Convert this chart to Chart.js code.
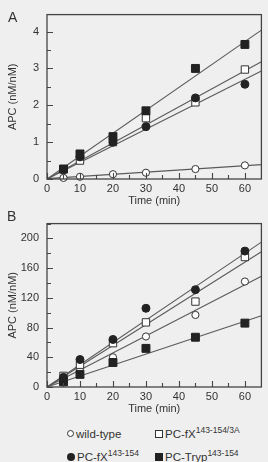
<!DOCTYPE html>
<html><head><meta charset="utf-8">
<script src="https://cdn.jsdelivr.net/npm/chart.js@4/dist/chart.umd.min.js"></script>
<style>
html,body{margin:0;padding:0;background:#efefef;}
body{width:268px;height:462px;position:relative;overflow:hidden;font-family:"Liberation Sans",Arial,sans-serif;color:#333;}
.cv{position:absolute;left:0;width:268px;}
.lbl{position:absolute;font-size:14px;color:#333;}
.leg{position:absolute;font-size:11.5px;color:#333;white-space:nowrap;line-height:14px;}
.leg sup{font-size:8.5px;position:relative;top:-1px;vertical-align:top;line-height:8px;}
.mk{display:inline-block;vertical-align:middle;margin-right:2px;position:relative;top:-1px;box-sizing:border-box;}
</style></head>
<body>
<div class="cv" style="top:0;height:209px"><canvas id="cA" width="268" height="209"></canvas></div>
<div class="cv" style="top:209px;height:208px"><canvas id="cB" width="268" height="208"></canvas></div>
<div class="lbl" style="left:8px;top:9px">A</div>
<div class="lbl" style="left:7px;top:208px">B</div>
<div class="leg" style="left:67px;top:427px"><span class="mk" style="width:7px;height:7px;border:1px solid #333;border-radius:50%;background:#fff"></span>wild-type</div>
<div class="leg" style="left:155px;top:427px"><span class="mk" style="width:8px;height:8px;border:1px solid #333;background:#fff"></span>PC-fX<sup>143-154/3A</sup></div>
<div class="leg" style="left:67px;top:450px"><span class="mk" style="width:8px;height:8px;border-radius:50%;background:#222"></span>PC-fX<sup>143-154</sup></div>
<div class="leg" style="left:155px;top:450px"><span class="mk" style="width:8px;height:8px;background:#222"></span>PC-Tryp<sup>143-154</sup></div>
<script>
// ---- data ----
const times = [5, 10, 20, 30, 45, 60];
const seriesNames = ["wild-type", "PC-fX143-154/3A", "PC-fX143-154", "PC-Tryp143-154"];
// Panel A (APC nM/nM)
const aWild = [0.03, 0.06, 0.13, 0.17, 0.27, 0.37];
const aFx3A = [0.27, 0.50, 1.00, 1.65, 2.08, 2.97];
const aFx   = [0.25, 0.60, 1.00, 1.42, 2.20, 2.57];
const aTryp = [0.27, 0.68, 1.15, 1.85, 3.00, 3.65];
// Panel B (APC nM/nM)
const bWild = [12, 25, 40, 68, 97, 142];
const bFx3A = [15, 30, 59, 87, 115, 175];
const bFx   = [13, 37, 64, 106, 131, 183];
const bTryp = [7, 17, 33, 52, 67, 86];
// Fitted lines: value at start and end time of fit
const fitTimes = [0, 65];
const aFitWild = [0.01, 0.39];
const aFitFx3A = [0, 3.18];
const aFitFx   = [0, 2.93];
const aFitTryp = [0, 4.04];
const bFitWild = [0, 149];
const bFitFx3A = [0, 182];
const bFitFx   = [0, 195];
const bFitTryp = [0, 96];
// Axis ticks
const xTicks = [0, 10, 20, 30, 40, 50, 60];
const aYTicks = [0, 1, 2, 3, 4];
const bYTicks = [0, 40, 80, 120, 160, 200];

const INK = '#333';
const LINE = '#5a5a5a';
const FONT = "'Liberation Sans', Arial, sans-serif";

function pts(xs, ys){ return xs.map((x,i)=>({x, y: ys[i]})); }

const styles = [
  {pointStyle:'circle', radius:3.6, bg:'#ffffff', border:'#333', bw:1},
  {pointStyle:'rect', radius:5.2, bg:'#ffffff', border:'#333', bw:1},
  {pointStyle:'circle', radius:4, bg:'#222', border:'#222', bw:1},
  {pointStyle:'rect', radius:5.6, bg:'#222', border:'#222', bw:1}
];

function makeDatasets(series, fits){
  const ds = [];
  fits.forEach((f,i)=>{
    ds.push({type:'line', data: pts(fitTimes, f), borderColor: LINE, borderWidth: 1.1,
      pointRadius: 0, fill:false, order: 10, clip: false});
  });
  series.forEach((s,i)=>{
    const st = styles[i];
    ds.push({label: seriesNames[i], type:'scatter', data: pts(times, s), showLine:false,
      pointStyle: st.pointStyle, pointRadius: st.radius, pointBackgroundColor: st.bg,
      pointBorderColor: st.border, pointBorderWidth: st.bw, order: 4 - i, clip:false});
  });
  return ds;
}

// plugin: frame + inward ticks
const framePlugin = {
  id: 'frame',
  afterDatasetsDraw(chart, args, opts){
    const {ctx, chartArea:a, scales:{x, y}} = chart;
    ctx.save();
    ctx.strokeStyle = '#444';
    ctx.lineWidth = 1.3;
    ctx.strokeRect(a.left, a.top, a.right - a.left, a.bottom - a.top);
    ctx.lineWidth = 1.1;
    ctx.beginPath();
    for (let v = 0; v <= 60; v += 5){
      const px = Math.round(x.getPixelForValue(v)) + 0.5;
      const len = (v % 10 === 0) ? 6 : 4;
      ctx.moveTo(px, a.bottom); ctx.lineTo(px, a.bottom - len);
    }
    const step = opts.minor;
    for (let v = 0; v <= y.max + 1e-9; v += step){
      const py = Math.round(y.getPixelForValue(v)) + 0.5;
      const major = Math.abs(v / (step*2) - Math.round(v/(step*2))) < 1e-6;
      const len = major ? 6 : 4;
      ctx.moveTo(a.left, py); ctx.lineTo(a.left + len, py);
    }
    ctx.stroke();
    ctx.restore();
  }
};

function makeChart(id, series, fits, ymax, yTicks, minor, padTop, titlePadB){
  return new Chart(document.getElementById(id), {
    data: { datasets: makeDatasets(series, fits) },
    plugins: [framePlugin],
    options: {
      responsive: false, animation: false,
      layout: { padding: { top: padTop, right: 3, left: 0, bottom: 0 } },
      plugins: { legend: {display:false}, tooltip:{enabled:false}, frame: {minor} },
      scales: {
        x: {
          type: 'linear', min: 0, max: 65,
          afterBuildTicks(s){ s.ticks = xTicks.map(v=>({value:v})); },
          afterFit(s){ s.height = 30; },
          grid: { display: false, drawTicks:false },
          border: { display: false },
          ticks: { color: INK, padding: 3, font: { family: FONT, size: 11 }, maxRotation:0, autoSkip:false },
          title: { display: true, text: 'Time (min)', color: INK, font: { family: FONT, size: 11 }, padding: {top:0, bottom: titlePadB} }
        },
        y: {
          type: 'linear', min: 0, max: ymax,
          afterBuildTicks(s){ s.ticks = yTicks.map(v=>({value:v})); },
          afterFit(s){ s.width = 47; },
          grid: { display: false, drawTicks:false },
          border: { display: false },
          ticks: { color: INK, padding: 8, font: { family: FONT, size: 11 }, autoSkip:false },
          title: { display: true, text: 'APC (nM/nM)', color: INK, font: { family: FONT, size: 11 }, padding: {top: 6, bottom: 0} }
        }
      }
    }
  });
}

makeChart('cA', [aWild, aFx3A, aFx, aTryp], [aFitWild, aFitFx3A, aFitFx, aFitTryp], 4.46, aYTicks, 0.5, 12, 1);
makeChart('cB', [bWild, bFx3A, bFx, bTryp], [bFitWild, bFitFx3A, bFitFx, bFitTryp], 220, bYTicks, 20, 9, 1);
</script>
</body></html>
